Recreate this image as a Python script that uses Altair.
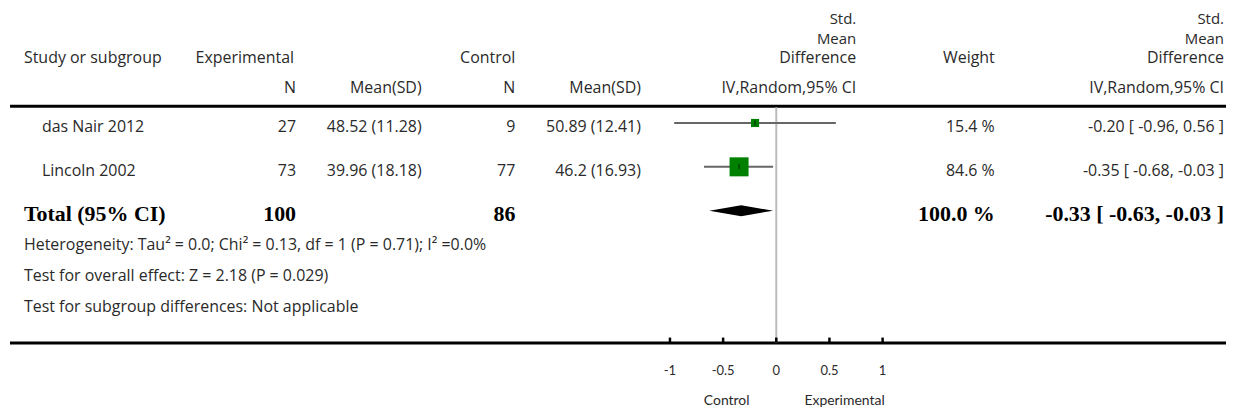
import altair as alt
import pandas as pd

# ---------------- data ----------------
studies = ["das Nair 2012", "Lincoln 2002"]
exp_n = [27, 73]
exp_mean_sd = ["48.52 (11.28)", "39.96 (18.18)"]
ctl_n = [9, 77]
ctl_mean_sd = ["50.89 (12.41)", "46.2 (16.93)"]
smd = [-0.20, -0.35]
ci_lo = [-0.96, -0.68]
ci_hi = [0.56, -0.03]
weights = [15.4, 84.6]

total_label = "Total (95% CI)"
total_exp_n = 100
total_ctl_n = 86
total_weight = 100.0
total_smd = -0.33
total_lo = -0.63
total_hi = -0.03

tick_values = [-1, -0.5, 0, 0.5, 1]
tick_labels = ["-1", "-0.5", "0", "0.5", "1"]

footnotes = [
    "Heterogeneity: Tau\u00b2 = 0.0; Chi\u00b2 = 0.13, df = 1 (P = 0.71); I\u00b2 =0.0%",
    "Test for overall effect: Z = 2.18 (P = 0.029)",
    "Test for subgroup differences: Not applicable",
]

# ---------------- layout ----------------
W, H = 1220, 396
X0, PXU = 768.8, 106.67          # plot-x of zero, px per SMD unit
ROW1, ROWH = 114.7, 44.0         # plot-y of first study row, row spacing
FONT = "Open Sans"
SFONT = "Lato"
BFONT = "Liberation Serif"
TXT = "#2a2a2a"
FS = 16

x_scale = alt.Scale(domain=[-X0 / PXU, (W - X0) / PXU], nice=False, zero=False)
y_scale = alt.Scale(domain=[1 - ROW1 / ROWH, 1 + (H - ROW1) / ROWH],
                    reverse=True, nice=False, zero=False)

rows = list(range(1, len(studies) + 1))
total_row = len(studies) + 1

df = pd.DataFrame({
    "study": studies,
    "exp_n": exp_n,
    "exp_msd": exp_mean_sd,
    "ctl_n": ctl_n,
    "ctl_msd": ctl_mean_sd,
    "smd": smd,
    "lo": ci_lo,
    "hi": ci_hi,
    "weight": weights,
    "row": rows,
})
df["w_label"] = [f"{w:.1f} %" for w in weights]
df["eff_label"] = [f"{s:.2f} [ {l:.2f}, {h:.2f} ]" for s, l, h in zip(smd, ci_lo, ci_hi)]

df_tot = pd.DataFrame({
    "label": [total_label],
    "exp_n": [total_exp_n],
    "ctl_n": [total_ctl_n],
    "w_label": [f"{total_weight:.1f} %"],
    "eff_label": [f"{total_smd:.2f} [ {total_lo:.2f}, {total_hi:.2f} ]"],
    "row": [total_row],
})

half = 5.5 / ROWH
df_dia = pd.DataFrame({
    "x": [total_lo, total_smd, total_hi],
    "y": [total_row, total_row - half, total_row],
    "y2": [total_row, total_row + half, total_row],
})

df_ticks = pd.DataFrame({"v": tick_values, "lab": tick_labels})

X = lambda f: alt.X(f, scale=x_scale, axis=None)
Y = lambda f: alt.Y(f, scale=y_scale, axis=None)


def txt(s, x, y, align="right", font=FONT, size=FS):
    return alt.Chart(pd.DataFrame({"t": [s]})).mark_text(
        align=align, baseline="middle", font=font, fontSize=size, color=TXT
    ).encode(x=alt.value(x), y=alt.value(y), text="t:N")


def col(field, x, align="right", dy=4):
    return alt.Chart(df).mark_text(
        align=align, baseline="middle", font=FONT, fontSize=FS, color=TXT, dy=dy
    ).encode(x=alt.value(x), y=Y("row:Q"), text=field)


def tcol(field, x, align="right", dy=3):
    return alt.Chart(df_tot).mark_text(
        align=align, baseline="middle", font=BFONT, fontSize=22, fontWeight="bold",
        color="#000000", dy=dy
    ).encode(x=alt.value(x), y=Y("row:Q"), text=field)


layers = []

# header
HY1, HY2 = 50, 80
layers += [
    txt("Study or subgroup", 14, HY1, align="left"),
    txt("Experimental", 285, HY1),
    txt("Control", 507, HY1),
    txt("Weight", 988, HY1),
    txt("N", 287, HY2),
    txt("Mean(SD)", 413, HY2),
    txt("N", 507, HY2),
    txt("Mean(SD)", 633, HY2),
    txt("IV,Random,95% CI", 849, HY2),
    txt("IV,Random,95% CI", 1218, HY2),
]
for xx in (849, 1218):
    layers += [txt("Std.", xx, 10, size=15), txt("Mean", xx, 30, size=15),
               txt("Difference", xx, HY1)]

# rules
rule_df = pd.DataFrame({"a": [0]})
layers.append(alt.Chart(rule_df).mark_rule(color="#000000", strokeWidth=3).encode(
    x=alt.value(0), x2=alt.value(W), y=alt.value(98)))
layers.append(alt.Chart(rule_df).mark_rule(color="#000000", strokeWidth=3).encode(
    x=alt.value(0), x2=alt.value(W), y=alt.value(335.5)))

# zero line
layers.append(alt.Chart(pd.DataFrame({"v": [0]})).mark_rule(
    color="#bbbbbb", strokeWidth=2).encode(
    x=X("v:Q"), y=alt.value(99), y2=alt.value(335)))

# axis ticks & labels
layers.append(alt.Chart(df_ticks).mark_rule(color="#000000", strokeWidth=2.5).encode(
    x=X("v:Q"), y=alt.value(330), y2=alt.value(335)))
layers.append(alt.Chart(df_ticks).mark_text(
    baseline="middle", font=SFONT, fontSize=13, color=TXT).encode(
    x=X("v:Q"), y=alt.value(364), text="lab:N"))
layers.append(txt("Control", 742, 394, font=SFONT, size=14))
layers.append(txt("Experimental", 797, 394, align="left", font=SFONT, size=14))

# study rows text
layers += [
    col("study:N", 32, align="left"),
    col("exp_n:Q", 287),
    col("exp_msd:N", 413),
    col("ctl_n:Q", 507),
    col("ctl_msd:N", 633),
    col("w_label:N", 988),
    col("eff_label:N", 1218),
]

# total row text
layers += [
    tcol("label:N", 14, align="left"),
    tcol("exp_n:Q", 287),
    tcol("ctl_n:Q", 507),
    tcol("w_label:N", 988),
    tcol("eff_label:N", 1218),
]

# footnotes
for f, yy in zip(footnotes, [237, 268, 299]):
    layers.append(txt(f, 14, yy, align="left"))

# CI lines
layers.append(alt.Chart(df).mark_rule(color="#666666", strokeWidth=2).encode(
    x=X("lo:Q"), x2="hi:Q", y=Y("row:Q")))
# squares
layers.append(alt.Chart(df).mark_square(filled=True, opacity=1, color="#008000").encode(
    x=X("smd:Q"), y=Y("row:Q"),
    size=alt.Size("weight:Q", scale=alt.Scale(domain=[0, 100], range=[0, 430]), legend=None)))
# point tick
layers.append(alt.Chart(df).mark_tick(orient="vertical", size=5, thickness=1, color="#000000").encode(
    x=X("smd:Q"), y=Y("row:Q")))
# diamond
layers.append(alt.Chart(df_dia).mark_area(color="#000000", opacity=1).encode(
    x=X("x:Q"), y=Y("y:Q"), y2="y2:Q"))

chart = alt.layer(*layers).properties(width=W, height=H, padding=0).configure_view(stroke=None)

chart.save("out.html", embed_options={"renderer": "svg", "actions": False})
